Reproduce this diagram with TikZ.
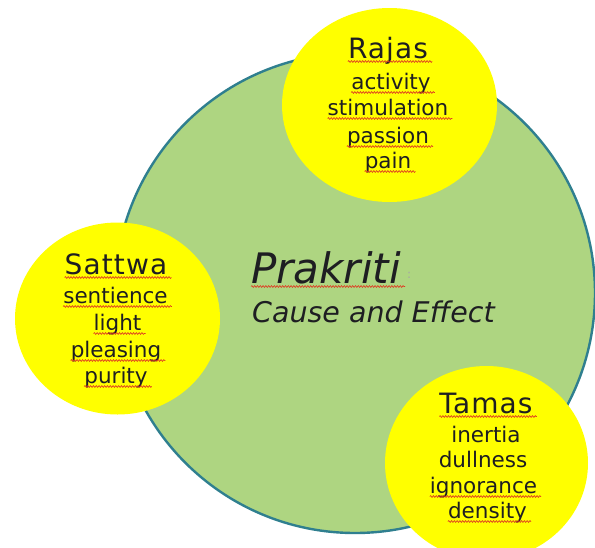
\documentclass[tikz,border=0pt]{standalone}
\usepackage{fontspec}
\setmainfont{DejaVu Sans}
\newfontfamily\headfont[LetterSpace=4]{DejaVu Sans}
\usetikzlibrary{decorations.pathmorphing}
\definecolor{leaf}{HTML}{AED581}
\definecolor{rim}{HTML}{2F7F8F}
\definecolor{sun}{HTML}{FFFF00}
\definecolor{ink}{HTML}{1E1E22}
\definecolor{squig}{HTML}{DE3A22}
\tikzset{
  gunacircle/.style={fill=sun, draw=none},
  word/.style={inner sep=0pt, anchor=base, text=ink},
  headword/.style={word, font=\headfont\fontsize{28}{28}\selectfont},
  bodyword/.style={word, font=\fontsize{21.5}{21.5}\selectfont},
  wavy/.style={draw=squig, line width=0.65pt, decorate,
    decoration={snake, amplitude=0.9pt, segment length=2.8pt}},
}
\newcommand{\squiggle}[1]{\draw[wavy] ([yshift=-3.5pt]#1.base west) -- ([yshift=-3.5pt,xshift=4pt]#1.base east);}
\begin{document}
\begin{tikzpicture}[x=1pt,y=-1pt]
\clip (0,0) rectangle (595,547);
\fill[white] (0,0) rectangle (595,547);
% Prakriti circle
\draw[fill=leaf, draw=rim, line width=2.4pt] (355,293) circle (240);
% gunas
\fill[gunacircle] (389.5,105) ellipse [x radius=107.5, y radius=97];
\fill[gunacircle] (117.5,318.5) ellipse [x radius=102.5, y radius=96];
\fill[gunacircle] (486.5,463) ellipse [x radius=101.5, y radius=97];
% centre text
\node[word, anchor=base west, font=\fontsize{42}{42}\selectfont\itshape] (prak) at (251,283) {Prakriti};
\node[anchor=base west, inner sep=0pt, text=gray!70, font=\fontsize{12}{12}\selectfont] (colon) at (407,278) {:};
\node[word, anchor=base west, font=\fontsize{28.5}{28.5}\selectfont\itshape] (cause) at (252,322) {Cause and Effect};
% Rajas
\node[headword] (rajas) at (388,58) {Rajas};
\node[bodyword] (activity) at (391,89) {activity};
\node[bodyword] (stimulation) at (388,115) {stimulation};
\node[bodyword] (passion) at (388,143) {passion};
\node[bodyword] (pain) at (388,168) {pain};
% Sattwa
\node[headword] (sattwa) at (116,274) {Sattwa};
\node[bodyword] (sentience) at (115.5,303) {sentience};
\node[bodyword] (light) at (117.5,330) {light};
\node[bodyword] (pleasing) at (116,357) {pleasing};
\node[bodyword] (purity) at (116,383) {purity};
% Tamas
\node[headword] (tamas) at (486,413) {Tamas};
\node[bodyword] (inertia) at (486,442) {inertia};
\node[bodyword] (dullness) at (483,467) {dullness};
\node[bodyword] (ignorance) at (483.5,493) {ignorance};
\node[bodyword] (density) at (487.5,518) {density};
% spell-check underlines
\squiggle{prak}
\squiggle{rajas}
\squiggle{activity}
\squiggle{stimulation}
\squiggle{passion}
\squiggle{pain}
\squiggle{sattwa}
\squiggle{sentience}
\squiggle{light}
\squiggle{pleasing}
\squiggle{purity}
\squiggle{tamas}
\squiggle{ignorance}
\squiggle{density}
\end{tikzpicture}
\end{document}
